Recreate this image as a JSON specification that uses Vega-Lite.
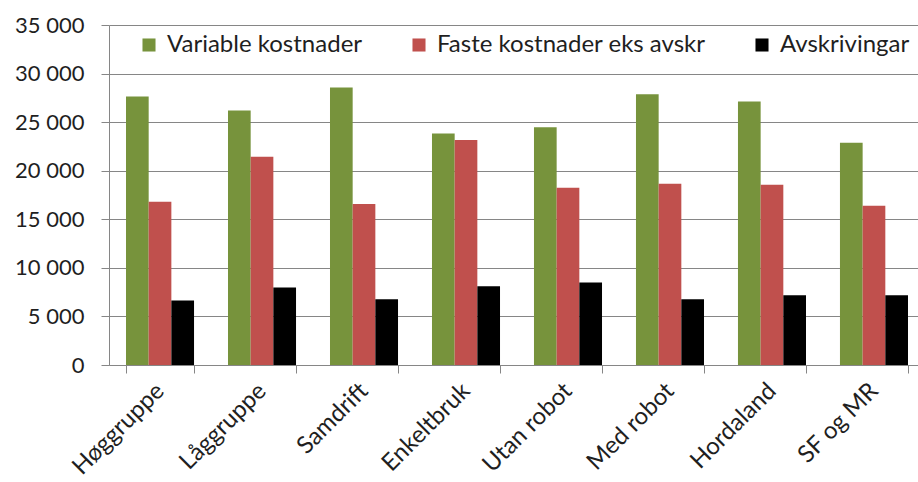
{
  "$schema": "https://vega.github.io/schema/vega-lite/v6.json",
  "width": 809,
  "height": 340,
  "autosize": "none",
  "padding": {"left": 109, "top": 25, "right": 0, "bottom": 117},
  "config": {
    "locale": {"number": {"decimal": ",", "thousands": " ", "grouping": [3], "currency": ["", " kr"]}},
    "view": {"stroke": null},
    "font": "Lato"
  },
  "data": {
    "values": [
      {"gruppe": "Høggruppe", "type": "Variable kostnader", "verdi": 27640},
      {"gruppe": "Høggruppe", "type": "Faste kostnader eks avskr", "verdi": 16810},
      {"gruppe": "Høggruppe", "type": "Avskrivingar", "verdi": 6640},
      {"gruppe": "Låggruppe", "type": "Variable kostnader", "verdi": 26200},
      {"gruppe": "Låggruppe", "type": "Faste kostnader eks avskr", "verdi": 21450},
      {"gruppe": "Låggruppe", "type": "Avskrivingar", "verdi": 7980},
      {"gruppe": "Samdrift", "type": "Variable kostnader", "verdi": 28570},
      {"gruppe": "Samdrift", "type": "Faste kostnader eks avskr", "verdi": 16570},
      {"gruppe": "Samdrift", "type": "Avskrivingar", "verdi": 6770},
      {"gruppe": "Enkeltbruk", "type": "Variable kostnader", "verdi": 23820},
      {"gruppe": "Enkeltbruk", "type": "Faste kostnader eks avskr", "verdi": 23170},
      {"gruppe": "Enkeltbruk", "type": "Avskrivingar", "verdi": 8110},
      {"gruppe": "Utan robot", "type": "Variable kostnader", "verdi": 24480},
      {"gruppe": "Utan robot", "type": "Faste kostnader eks avskr", "verdi": 18250},
      {"gruppe": "Utan robot", "type": "Avskrivingar", "verdi": 8490},
      {"gruppe": "Med robot", "type": "Variable kostnader", "verdi": 27880},
      {"gruppe": "Med robot", "type": "Faste kostnader eks avskr", "verdi": 18670},
      {"gruppe": "Med robot", "type": "Avskrivingar", "verdi": 6770},
      {"gruppe": "Hordaland", "type": "Variable kostnader", "verdi": 27120},
      {"gruppe": "Hordaland", "type": "Faste kostnader eks avskr", "verdi": 18560},
      {"gruppe": "Hordaland", "type": "Avskrivingar", "verdi": 7190},
      {"gruppe": "SF og MR", "type": "Variable kostnader", "verdi": 22890},
      {"gruppe": "SF og MR", "type": "Faste kostnader eks avskr", "verdi": 16400},
      {"gruppe": "SF og MR", "type": "Avskrivingar", "verdi": 7190}
    ]
  },
  "mark": {"type": "bar"},
  "encoding": {
    "x": {
      "field": "gruppe",
      "type": "nominal",
      "sort": null,
      "title": null,
      "scale": {"paddingInner": 0.333, "paddingOuter": 0.1667, "range": [0, 816]},
      "axis": {
        "labelAngle": -45,
        "labelAlign": "right",
        "labelBaseline": "middle",
        "labelFontSize": 24,
        "labelColor": "#1f1f1f",
        "labelPadding": 14,
        "tickBand": "extent",
        "tickSize": 8,
        "tickColor": "#868686",
        "domainColor": "#868686",
        "grid": false
      }
    },
    "xOffset": {
      "field": "type",
      "sort": ["Variable kostnader", "Faste kostnader eks avskr", "Avskrivingar"],
      "scale": {"paddingInner": 0, "paddingOuter": 0}
    },
    "y": {
      "field": "verdi",
      "type": "quantitative",
      "scale": {"domain": [0, 35000]},
      "title": null,
      "axis": {
        "values": [0, 5000, 10000, 15000, 20000, 25000, 30000, 35000],
        "format": ",d",
        "labelFontSize": 22,
        "labelColor": "#1f1f1f",
        "labelPadding": 17,
        "tickSize": 8,
        "tickColor": "#868686",
        "domainColor": "#868686",
        "gridColor": "#868686",
        "gridWidth": 1
      }
    },
    "color": {
      "field": "type",
      "type": "nominal",
      "sort": ["Variable kostnader", "Faste kostnader eks avskr", "Avskrivingar"],
      "scale": {
        "domain": ["Variable kostnader", "Faste kostnader eks avskr", "Avskrivingar"],
        "range": ["#77933C", "#C0504D", "#000000"]
      },
      "legend": {
        "title": null,
        "orient": "none",
        "direction": "horizontal",
        "legendX": 28,
        "legendY": 8,
        "symbolType": "square",
        "symbolSize": 170,
        "symbolStrokeWidth": 0,
        "labelFontSize": 24,
        "labelColor": "#1f1f1f",
        "labelOffset": 6,
        "columnPadding": 44,
        "labelLimit": 400,
        "fillColor": "white"
      }
    }
  }
}
